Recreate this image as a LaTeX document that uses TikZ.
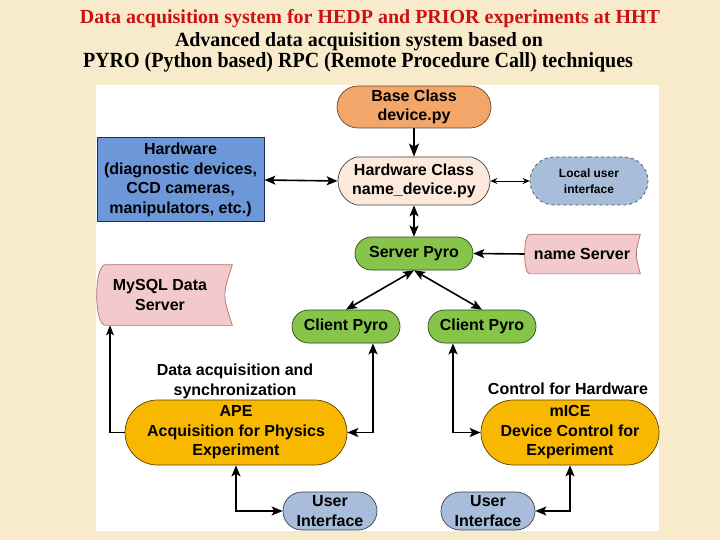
\documentclass[tikz,border=0pt]{standalone}
\usepackage{fontspec}
\setmainfont{Liberation Serif}
\setsansfont{Liberation Sans}
\usetikzlibrary{arrows.meta,calc,shapes.misc}
\pgfdeclarelayer{paper}
\pgfdeclarelayer{background}
\pgfsetlayers{paper,background,main}
\definecolor{parch}{HTML}{F8EBCB}
\definecolor{titlered}{HTML}{CC1111}
\definecolor{baseor}{HTML}{F2A66A}
\definecolor{hwpeach}{HTML}{FCE9DB}
\definecolor{uiblue}{HTML}{A8BDDA}
\definecolor{hwblue}{HTML}{6C98DA}
\definecolor{hwborder}{HTML}{1C2A55}
\definecolor{pyrogreen}{HTML}{86C44A}
\definecolor{greenborder}{HTML}{2F4A1A}
\definecolor{pinkfill}{HTML}{F2CACB}
\definecolor{pinkborder}{HTML}{B86A6A}
\definecolor{gold}{HTML}{F8B800}
\definecolor{goldborder}{HTML}{5A4300}
\begin{document}
\begin{tikzpicture}[x=1pt,y=-1pt,
  titlefont/.style={font=\fontsize{20}{24}\selectfont\bfseries, inner sep=0pt},
  box/.style={font=\sffamily\bfseries\fontsize{16}{19.5}\selectfont, align=center, inner sep=0pt, line width=0.7pt},
  stad/.style={box, rounded rectangle},
  pinkshape/.style={fill=pinkfill, draw=pinkborder, line width=0.7pt},
  lab/.style={font=\sffamily\bfseries\fontsize{16}{19.5}\selectfont, align=center, inner sep=0pt},
  conn/.style={line width=1.6pt, {Stealth[length=11pt,width=9pt,inset=2.5pt]}-{Stealth[length=11pt,width=9pt,inset=2.5pt]}},
  conn1/.style={line width=1.6pt, -{Stealth[length=11pt,width=9pt,inset=2.5pt]}},
  thin2/.style={line width=0.8pt, {Stealth[length=7pt,width=6pt]}-{Stealth[length=7pt,width=6pt]}}
]
\useasboundingbox (0,0) rectangle (720,540);
\begin{pgfonlayer}{paper}
\fill[parch] (0,0) rectangle (720,540);
\fill[white] (96,85) rectangle (659,531);
\end{pgfonlayer}

% titles
\node[titlefont, text=titlered, anchor=base] (t1) at (370,24) {\resizebox{580pt}{14pt}{Data acquisition system for HEDP and PRIOR experiments at HHT}};
\node[titlefont, anchor=base] (t2) at (359,46.5) {\resizebox{368pt}{14pt}{Advanced data acquisition system based on}};
\node[titlefont, anchor=base] (t3) at (358,68) {\resizebox{550pt}{15pt}{PYRO (Python based) RPC (Remote Procedure Call) techniques}};

% nodes
\node[stad, fill=baseor, draw=brown!55!black, minimum width=154pt, minimum height=42pt] (base) at (414,107) {Base Class\\device.py};
\node[stad, fill=hwpeach, draw=black!75, minimum width=152pt, minimum height=48pt, rounded rectangle arc length=150] (hwc) at (414,181) {Hardware Class\\name\_device.py};
\node[stad, fill=uiblue, draw=black!70, dashed, minimum width=118pt, minimum height=48pt, font=\sffamily\bfseries\fontsize{12}{16}\selectfont] (lui) at (589,181) {Local user\\interface};
\node[box, fill=hwblue, draw=hwborder, line width=1pt, minimum width=167pt, minimum height=84pt] (hw) at (180.5,180) {Hardware\\(diagnostic devices,\\CCD cameras,\\manipulators, etc.)};
\node[stad, fill=pyrogreen, draw=greenborder, minimum width=118pt, minimum height=33pt] (srv) at (414,253.5) {Server Pyro};
\node[box, minimum width=114pt, minimum height=39pt] (ns) at (582,254) {name Server};
\node[box, minimum width=126pt, minimum height=60pt] (mysql) at (160,295) {MySQL Data\\Server};
\node[stad, fill=pyrogreen, draw=greenborder, minimum width=108pt, minimum height=33pt] (cl) at (346,326.5) {Client Pyro};
\node[stad, fill=pyrogreen, draw=greenborder, minimum width=108pt, minimum height=33pt] (cr) at (482,326.5) {Client Pyro};
\node[lab] (lab1) at (235,381.5) {Data acquisition and\\synchronization};
\node[lab] (lab2) at (568,389) {Control for Hardware};
\node[stad, fill=gold, draw=goldborder, minimum width=222pt, minimum height=65pt] (ape) at (236,432.5) {APE\\Acquisition for Physics\\Experiment};
\node[stad, fill=gold, draw=goldborder, minimum width=178pt, minimum height=65pt] (mice) at (570,432.5) {mICE\\Device Control for\\Experiment};
\node[stad, fill=uiblue, draw=black!75, minimum width=94pt, minimum height=38pt] (uil) at (330,511) {User\\Interface};
\node[stad, fill=uiblue, draw=black!75, minimum width=94pt, minimum height=38pt] (uir) at (488,511) {User\\Interface};

% stored-data outlines
\begin{pgfonlayer}{background}
\draw[pinkshape] ($(mysql.north west)+(9,0)$) -- ($(mysql.north east)+(9,0)$)
  .. controls ($(mysql.east)+(-1,0)$) .. ($(mysql.south east)+(9,0)$)
  -- ($(mysql.south west)+(9,0)$)
  .. controls ($(mysql.south west)+(-3,0)$) and ($(mysql.north west)+(-3,0)$) .. cycle;
\draw[pinkshape] ($(ns.north west)+(5,0)$) -- ($(ns.north east)+(1,0)$)
  .. controls ($(ns.east)+(-4.3,0)$) .. ($(ns.south east)+(1,0)$)
  -- ($(ns.south west)+(5,0)$)
  .. controls ($(ns.south west)+(-1.7,0)$) and ($(ns.north west)+(-1.7,0)$) .. cycle;
\end{pgfonlayer}

% connectors
\draw[line width=2.2pt, -{Stealth[length=13pt,width=10pt,inset=3pt]}] (base.south) -- (hwc.north);
\draw[conn] (hw.east) -- (hwc.west);
\draw[thin2] (hwc.east) -- (lui.west);
\draw[conn] (hwc.south) -- (srv.north);
\draw[conn1] (ns.west) -- (srv.east);
\draw[conn] (srv.south) -- (cl.north);
\draw[conn] (srv.south) -- (cr.north);
\draw[conn] ([xshift=27pt]cl.south) |- (ape.east);
\draw[conn] ([xshift=-29pt]cr.south) |- (mice.west);
\draw[line width=1.2pt, -{Stealth[length=10pt,width=8pt,inset=2.5pt]}] (ape.west) -| ([xshift=-50pt]mysql.south);
\draw[conn] (ape.south) |- (uil.west);
\draw[conn] (mice.south) |- (uir.east);
\end{tikzpicture}
\end{document}
